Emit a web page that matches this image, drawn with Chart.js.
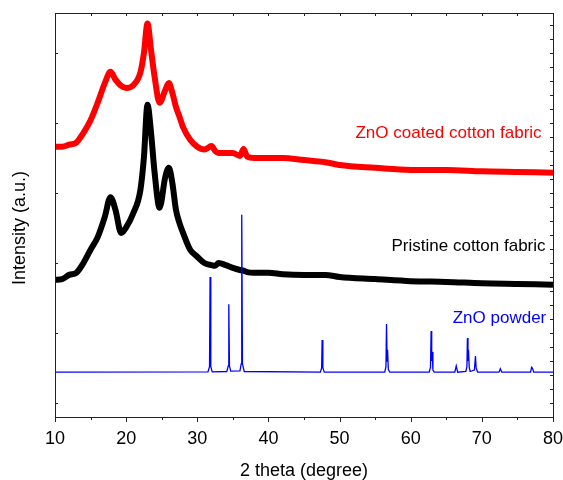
<!DOCTYPE html>
<html>
<head>
<meta charset="utf-8">
<title>XRD patterns</title>
<script src="https://cdn.jsdelivr.net/npm/chart.js@4.4.1/dist/chart.umd.min.js"></script>
<style>
  html, body { margin: 0; padding: 0; background: #fff; }
  #wrap { width: 563px; height: 480px; }
</style>
</head>
<body>
<div id="wrap"><canvas id="xrd" width="563" height="480"></canvas></div>
<script>
  // Fabric scans (centre of the noisy band)
  const fabricTheta = [10, 11, 12, 13, 14, 15, 16, 17, 17.8, 18.5, 19.3, 20, 21, 22, 22.5, 23, 23.5, 24, 24.7,
    25.5, 26, 26.5, 27, 27.5, 28, 29, 30, 31, 32, 32.5, 33, 34, 35, 36, 36.5, 37, 38, 40, 42, 45, 48, 50,
    55, 60, 65, 70, 75, 80];
  const pristineCounts = [1760, 1770, 1830, 1860, 2000, 2190, 2370, 2660, 2940, 2760, 2430, 2510, 2710, 3040, 3510, 4260, 3860, 3290, 2790,
    3230, 3360, 3140, 2760, 2570, 2430, 2190, 2090, 2000, 1970, 1960, 2000, 1970, 1930, 1900, 1890, 1870, 1860, 1860, 1840, 1830, 1830, 1800,
    1770, 1740, 1730, 1710, 1700, 1690];
  const coatedCounts = [3660, 3660, 3690, 3720, 3860, 4040, 4290, 4570, 4730, 4620, 4530, 4500, 4540, 4720, 5000, 5420, 5040, 4660, 4290,
    4470, 4570, 4430, 4230, 4090, 3940, 3760, 3660, 3620, 3670, 3600, 3570, 3570, 3570, 3530, 3630, 3520, 3500, 3500, 3500, 3470, 3440, 3400,
    3360, 3330, 3330, 3310, 3300, 3290];

  // ZnO powder reference pattern
  const powderTheta = [10, 31.5, 31.72, 31.8, 31.9, 32.1,
    34.15, 34.35, 34.43, 34.52, 34.7,
    36.0, 36.17, 36.25, 36.35, 36.6,
    47.3, 47.48, 47.55, 47.65, 47.85,
    56.35, 56.52, 56.6, 56.68, 56.75, 56.85, 57.05,
    62.6, 62.78, 62.87, 62.95, 63.02, 63.12, 63.3,
    66.2, 66.4, 66.6,
    67.75, 67.9, 67.97, 68.05, 68.12, 68.22, 68.35,
    68.95, 69.1, 69.2, 69.4,
    72.4, 72.6, 72.8,
    76.85, 77.0, 77.1, 77.3, 80];
  const powderCounts = [440, 445, 520, 1800, 520, 445,
    450, 530, 1410, 530, 455,
    460, 560, 2690, 560, 450,
    440, 500, 900, 500, 440,
    440, 520, 1130, 600, 760, 480, 440,
    440, 510, 1030, 600, 730, 470, 440,
    440, 530, 440,
    450, 520, 930, 600, 760, 520, 450,
    470, 670, 500, 440,
    440, 490, 440,
    440, 510, 500, 440, 440];

  const xTickValues = [10, 20, 30, 40, 50, 60, 70, 80];
  const traceNames = ['ZnO powder', 'Pristine cotton fabric', 'ZnO coated cotton fabric'];

  const fontFamily = 'Arial, "Liberation Sans", sans-serif';

  // where the trace names sit, in data units
  const traceLabels = [
    { text: traceNames[2], x: 78.4, y: 3857, color: '#ff0000' },
    { text: traceNames[1], x: 78.95, y: 2243, color: '#000000' },
    { text: traceNames[0], x: 79.05, y: 1215, color: '#0000ff' }
  ];

  function pairs(xs, ys) {
    return xs.map((x, i) => ({ x, y: ys[i] }));
  }

  // box, inward/outward tick marks, trace names and y title
  const frameAndTicks = {
    id: 'frameAndTicks',
    afterDraw(chart) {
      const { ctx, chartArea: a, scales: { x, y } } = chart;
      ctx.save();
      ctx.strokeStyle = '#222';
      ctx.lineWidth = 1;
      ctx.strokeRect(Math.round(a.left) + 0.5, Math.round(a.top) + 0.5,
        Math.round(a.right - a.left), Math.round(a.bottom - a.top));

      ctx.beginPath();
      for (let t = 10; t <= 80; t += 5) {
        const px = Math.round(x.getPixelForValue(t)) + 0.5;
        const len = t % 10 === 0 ? 5 : 3;
        ctx.moveTo(px, a.bottom); ctx.lineTo(px, a.bottom + len);
        ctx.moveTo(px, a.top); ctx.lineTo(px, a.top + 3);
      }
      for (let v = 0; v <= 5000; v += 1000) {
        const py = Math.round(y.getPixelForValue(v)) + 0.5;
        ctx.moveTo(a.left, py); ctx.lineTo(a.left + 3, py);
      }
      for (let v = 0; v <= 5400; v += 200) {
        const py = Math.round(y.getPixelForValue(v)) + 0.5;
        ctx.moveTo(a.right, py); ctx.lineTo(a.right - 3, py);
      }
      ctx.stroke();

      ctx.font = '17px ' + fontFamily;
      ctx.textAlign = 'right';
      ctx.textBaseline = 'middle';
      traceLabels.forEach(l => {
        ctx.fillStyle = l.color;
        ctx.fillText(l.text, x.getPixelForValue(l.x), y.getPixelForValue(l.y));
      });

      ctx.fillStyle = '#000';
      ctx.font = '18px ' + fontFamily;
      ctx.textAlign = 'center';
      ctx.translate(20, 228);
      ctx.rotate(-Math.PI / 2);
      ctx.fillText('Intensity (a.u.)', 0, 0);
      ctx.restore();
    }
  };

  new Chart(document.getElementById('xrd'), {
    type: 'line',
    data: {
      datasets: [
        {
          label: traceNames[0],
          data: pairs(powderTheta, powderCounts),
          borderColor: '#0000ff',
          borderWidth: 1.3,
          order: 0
        },
        {
          label: traceNames[1],
          data: pairs(fabricTheta, pristineCounts),
          borderColor: '#000000',
          borderWidth: 6,
          cubicInterpolationMode: 'monotone',
          order: 1
        },
        {
          label: traceNames[2],
          data: pairs(fabricTheta, coatedCounts),
          borderColor: '#ff0000',
          borderWidth: 6,
          cubicInterpolationMode: 'monotone',
          order: 2
        }
      ]
    },
    options: {
      responsive: false,
      animation: false,
      events: [],
      layout: { autoPadding: false, padding: { top: 13, right: 10, left: 0, bottom: 0 } },
      elements: { point: { radius: 0 } },
      plugins: { legend: { display: false }, tooltip: { enabled: false } },
      scales: {
        x: {
          type: 'linear',
          min: 10,
          max: 80,
          afterBuildTicks: s => { s.ticks = xTickValues.map(v => ({ value: v })); },
          afterFit: s => { s.height = 63; s.paddingLeft = 0; s.paddingRight = 0; },
          grid: { display: false, drawTicks: false },
          border: { display: false },
          ticks: { color: '#000', padding: 11, font: { family: fontFamily, size: 18 }, maxRotation: 0 },
          title: {
            display: true,
            text: '2 theta (degree)',
            color: '#000',
            font: { family: fontFamily, size: 18, lineHeight: 1 },
            padding: { top: 0, bottom: 0 }
          }
        },
        y: {
          type: 'linear',
          min: -200,
          max: 5571,
          afterFit: s => { s.width = 55; s.paddingTop = 0; s.paddingBottom = 0; },
          grid: { display: false, drawTicks: false },
          border: { display: false },
          ticks: { display: false }
        }
      }
    },
    plugins: [frameAndTicks]
  });
</script>
</body>
</html>
